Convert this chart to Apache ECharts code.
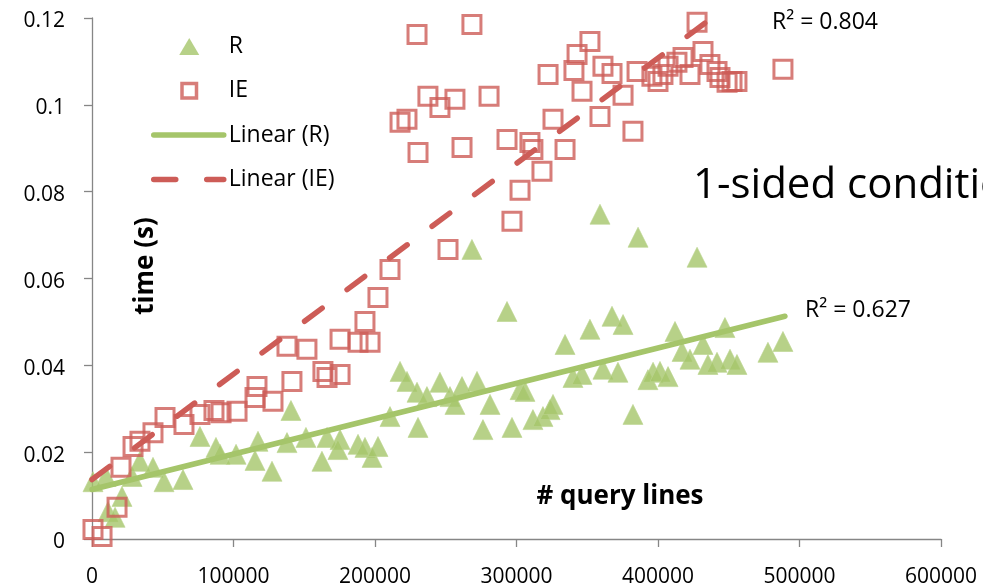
<!DOCTYPE html>
<html>
<head>
<meta charset="utf-8">
<script src="https://cdn.jsdelivr.net/npm/echarts@6/dist/echarts.min.js"></script>
<style>
html,body{margin:0;padding:0;background:#fff;}
#chart{width:983px;height:588px;}
</style>
</head>
<body>
<div id="chart"></div>
<script>
// ---- data ----
const seriesNames = ['R', 'IE', 'Linear (R)', 'Linear (IE)'];

const rPoints = [
  [700,0.0132],[9900,0.0144],[11300,0.0063],[16300,0.0050],[21200,0.0098],
  [28300,0.0144],[33900,0.0179],[43100,0.0165],[50900,0.0132],[64300,0.0137],
  [76300,0.0236],[87600,0.0211],[90500,0.0195],[101800,0.0195],[115200,0.0181],
  [117300,0.0225],[127200,0.0156],[140600,0.0296],[137800,0.0222],[151200,0.0234],
  [162500,0.0179],[166100,0.0234],[175300,0.0229],[173800,0.0206],[188000,0.0218],
  [192900,0.0211],[197900,0.0188],[202100,0.0213],[210600,0.0282],[217700,0.0386],
  [222600,0.0363],[229700,0.0338],[230400,0.0257],[236700,0.0328],[245900,0.0361],
  [253000,0.0328],[256500,0.0310],[261500,0.0351],[268500,0.0667],[272100,0.0363],
  [276300,0.0252],[281300,0.0310],[293300,0.0524],[296800,0.0257],[302500,0.0344],
  [306000,0.0340],[311600,0.0275],[318700,0.0282],[323700,0.0298],[325800,0.0310],
  [334300,0.0448],[339900,0.0372],[346300,0.0379],[351900,0.0483],[359000,0.0748],
  [361100,0.0391],[367500,0.0513],[371700,0.0384],[375300,0.0494],[382300,0.0287],
  [385900,0.0695],[392900,0.0367],[396500,0.0384],[401400,0.0386],[407100,0.0374],
  [412000,0.0478],[417000,0.0432],[422600,0.0414],[427600,0.0649],[431800,0.0448],
  [435300,0.0402],[441700,0.0407],[447300,0.0487],[450900,0.0414],[455800,0.0402],
  [477700,0.0430],[488300,0.0455]
];

const iePoints = [
  [700,0.0022],[7100,0.0006],[17700,0.0073],[20500,0.0165],[29000,0.0213],
  [33900,0.0225],[43100,0.0245],[51600,0.0280],[65000,0.0264],[76300,0.0287],
  [86200,0.0296],[91200,0.0291],[102500,0.0294],[115200,0.0326],[116600,0.0351],
  [127900,0.0317],[141300,0.0363],[137800,0.0444],[151900,0.0437],[163200,0.0386],
  [166100,0.0372],[175300,0.0379],[175300,0.0460],[188000,0.0453],[196500,0.0453],
  [192900,0.0501],[202100,0.0556],[210600,0.0621],[217700,0.0960],[222600,0.0967],
  [229700,0.1162],[230400,0.0890],[237400,0.1020],[245900,0.0994],[251600,0.0667],
  [256500,0.1013],[261500,0.0902],[268500,0.1185],[280600,0.1020],[293300,0.0920],
  [296800,0.0732],[302500,0.0803],[309500,0.0913],[311600,0.0897],[318000,0.0847],
  [322300,0.1070],[325800,0.0967],[334300,0.0897],[340600,0.1079],[342800,0.1116],
  [346300,0.1031],[351900,0.1146],[359000,0.0973],[361100,0.1089],[367500,0.1072],
  [375300,0.1022],[382300,0.0939],[385200,0.1077],[395700,0.1066],[400000,0.1054],
  [403500,0.1070],[407100,0.1089],[413400,0.1098],[417700,0.1109],[422600,0.1070],
  [427600,0.1190],[431800,0.1123],[436700,0.1093],[441700,0.1077],[443800,0.1063],
  [448800,0.1052],[452300,0.1054],[455800,0.1054],[488300,0.1082]
];

// trendline end points
const rTrend = [[0, 0.0114], [489700, 0.0513]];
const ieTrend = [[0, 0.0137], [438000, 0.12]];

const r2Labels = ['R\u00b2 = 0.804', 'R\u00b2 = 0.627'];
const xAxisTitle = '# query lines';
const yAxisTitle = 'time (s)';
const noteText = '1-sided condition';

// ---- chart ----
const FONT = '"Open Sans", "Noto Sans", sans-serif';
const GREEN = '#a5c56a';
const RED = '#cd5c57';
const AXIS = '#868686';

// legend icons: a 70x18 box (invisible move-to corners) with the marker centred
const triIcon = 'path://M0,0M70,18M35.5,0.5L45.5,17.5L25.5,17.5Z';
// hollow square drawn as a filled ring (outer clockwise, inner counter-clockwise)
const sqIcon = 'path://M0,0M70,18M26.5,0L44.5,0L44.5,18L26.5,18ZM30,3.5L30,14.5L41,14.5L41,3.5Z';

const chart = echarts.init(document.getElementById('chart'), null, {renderer: 'canvas'});
chart.setOption({
  animation: false,
  backgroundColor: '#fff',
  grid: {left: 92, right: 42, top: 18, bottom: 48.5, containLabel: false},
  xAxis: {
    type: 'value', min: 0, max: 600000, interval: 100000,
    axisLine: {show: true, lineStyle: {color: AXIS, width: 1.3}},
    axisTick: {show: true, length: 8, lineStyle: {color: AXIS, width: 1.3}},
    splitLine: {show: false},
    axisLabel: {color: '#000', fontFamily: FONT, fontSize: 21, margin: 28,
      formatter: v => String(v)}
  },
  yAxis: {
    type: 'value', min: 0, max: 0.12, interval: 0.02,
    axisLine: {show: true, lineStyle: {color: AXIS, width: 1.3}},
    axisTick: {show: true, length: 8, lineStyle: {color: AXIS, width: 1.3}},
    splitLine: {show: false},
    axisLabel: {color: '#000', fontFamily: FONT, fontSize: 21, margin: 27,
      formatter: v => '{a|' + String(+v.toFixed(2)) + '}',
      rich: {a: {fontFamily: FONT, fontSize: 21, color: '#000', padding: [7, 0, 0, 0]}}}
  },
  legend: {
    orient: 'vertical', left: 151, top: 34.5, padding: 0,
    itemWidth: 70, itemHeight: 18, itemGap: 20.3,
    textStyle: {fontFamily: FONT, fontSize: 23, color: '#000', lineHeight: 24},
    lineStyle: {width: 'inherit'},
    data: [
      {name: seriesNames[0], icon: triIcon, itemStyle: {color: GREEN, borderWidth: 0}},
      {name: seriesNames[1], icon: sqIcon, itemStyle: {color: RED, borderWidth: 0}},
      {name: seriesNames[2], itemStyle: {opacity: 0}},
      {name: seriesNames[3], itemStyle: {opacity: 0}}
    ]
  },
  series: [
    {
      name: seriesNames[0], type: 'scatter', data: rPoints,
      symbol: 'triangle', symbolSize: 20, z: 2,
      itemStyle: {color: GREEN, borderColor: '#bcd48f', borderWidth: 0.8}
    },
    {
      name: seriesNames[1], type: 'scatter', data: iePoints,
      symbol: 'rect', symbolSize: 18, z: 3,
      itemStyle: {color: 'transparent', borderColor: RED, borderWidth: 3}
    },
    {
      name: seriesNames[2], type: 'line', data: rTrend,
      symbol: 'none', showSymbol: false, z: 4, silent: true,
      lineStyle: {color: GREEN, width: 5.5, cap: 'round'},
      itemStyle: {color: GREEN}
    },
    {
      name: seriesNames[3], type: 'line', data: ieTrend,
      symbol: 'none', showSymbol: false, z: 4, silent: true, clip: true,
      lineStyle: {color: RED, width: 5.5, type: [22, 31], cap: 'round'},
      itemStyle: {color: RED}
    }
  ],
  graphic: [
    {type: 'text', x: 772, y: 22, z: 10,
      style: {text: r2Labels[0], font: '23px ' + FONT, fill: '#000', align: 'left', verticalAlign: 'middle'}},
    {type: 'text', x: 805, y: 310, z: 10,
      style: {text: r2Labels[1], font: '23px ' + FONT, fill: '#000', align: 'left', verticalAlign: 'middle'}},
    {type: 'text', x: 620, y: 497, z: 10,
      style: {text: xAxisTitle, font: 'bold 26px ' + FONT, fill: '#000', align: 'center', verticalAlign: 'middle'}},
    {type: 'text', x: 146, y: 266, z: 10, rotation: Math.PI / 2,
      style: {text: yAxisTitle, font: 'bold 26px ' + FONT, fill: '#000', align: 'center', verticalAlign: 'middle'}},
    {type: 'text', x: 693, y: 186, z: 10,
      style: {text: noteText, font: '42px ' + FONT, fill: '#000', align: 'left', verticalAlign: 'middle'}}
  ]
});
</script>
</body>
</html>
